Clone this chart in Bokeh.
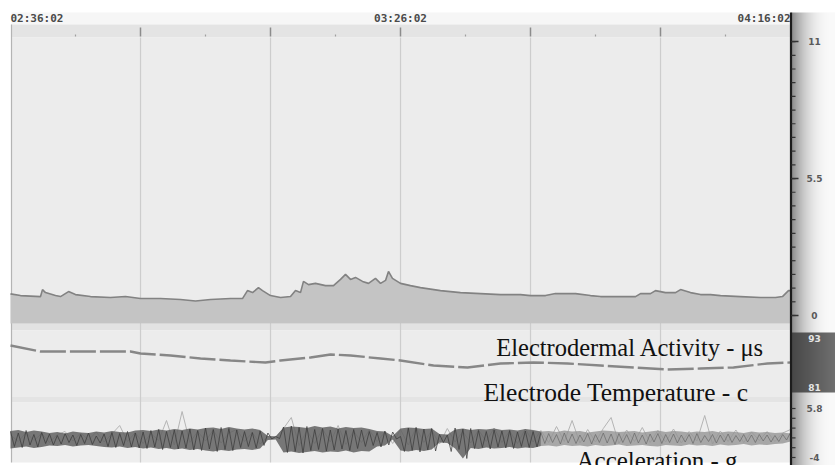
import numpy as np
from bokeh.plotting import figure
from bokeh.models import Range1d, Label
from bokeh.core.properties import value
from bokeh.embed import file_html
from bokeh.resources import INLINE

# ---------------- data (minutes after 02:36:02) ----------------
time_tick_minutes = [0, 50, 100]
time_tick_labels = ["02:36:02", "03:26:02", "04:16:02"]
time_tick_align = ["left", "center", "right"]

eda_minutes = [0.0, 1.28, 3.85, 4.10, 4.49, 5.77, 6.41, 7.44, 8.33, 10.26, 12.82, 14.74,
               16.67, 19.23, 21.79, 23.72, 25.64, 28.21, 29.74, 30.38, 31.03, 31.79, 32.31,
               33.33, 34.62, 35.90, 36.54, 37.18, 37.56, 38.21, 39.10, 40.38, 41.41, 42.31,
               42.95, 43.59, 44.23, 45.13, 45.90, 46.79, 47.44, 48.08, 48.46, 48.97, 50.0,
               51.28, 52.56, 55.13, 57.69, 60.26, 62.82, 65.38, 66.67, 68.59, 69.87, 71.15,
               72.44, 74.36, 75.64, 77.56, 80.13, 80.77, 82.05, 82.69, 83.97, 85.26, 85.90,
               87.18, 88.46, 89.74, 91.03, 93.59, 96.15, 98.08, 98.97, 99.74, 100.0]
eda_us = [0.87, 0.80, 0.76, 1.04, 0.92, 0.80, 0.76, 0.96, 0.84, 0.76, 0.72, 0.76,
          0.68, 0.68, 0.64, 0.58, 0.64, 0.68, 0.68, 1.00, 0.92, 1.12, 1.00,
          0.80, 0.72, 0.76, 1.00, 0.92, 1.37, 1.24, 1.29, 1.20, 1.20, 1.45,
          1.65, 1.45, 1.53, 1.37, 1.29, 1.49, 1.29, 1.41, 1.77, 1.49, 1.29,
          1.20, 1.12, 1.00, 0.92, 0.88, 0.84, 0.84, 0.80, 0.80, 0.88, 0.88,
          0.88, 0.80, 0.76, 0.76, 0.76, 0.88, 0.88, 1.00, 0.92, 0.92, 1.04,
          0.92, 0.84, 0.84, 0.80, 0.76, 0.72, 0.72, 0.76, 1.00, 1.00]

temp_minutes = [0.0, 3.85, 15.38, 16.67, 20.51, 24.36, 28.21, 32.69, 34.62, 38.46, 41.03,
                43.59, 47.44, 50.0, 54.23, 58.59, 62.82, 67.05, 71.41, 75.64, 79.87,
                84.23, 88.46, 92.69, 97.05, 100.0]
temp_c = [91.29, 89.82, 89.82, 89.33, 88.84, 88.10, 87.61, 87.12, 87.61, 88.35, 89.08,
          88.84, 88.10, 87.61, 86.39, 85.90, 86.88, 87.12, 86.88, 86.39, 85.90,
          85.41, 85.65, 85.90, 86.88, 87.12]

# acceleration: per-minute envelope of the dense trace (g)
acc_hi = [1.3, 1.5, 1.1, 1.4, 1.2, 0.9, 1.1, 0.8, 1.2, 1.0,
          0.9, 1.2, 1.0, 1.3, 1.1, 1.0, 1.4, 1.5, 1.3, 1.6,
          1.4, 1.7, 1.5, 1.8, 1.6, 1.9, 2.0, 1.7, 2.1, 1.8,
          1.6, 1.8, 1.5, 0.3, 0.2, 2.0, 2.2, 2.1, 1.9, 2.3,
          2.0, 2.2, 1.8, 2.1, 1.9, 2.0, 1.7, 1.3, 1.2, 0.3,
          1.8, 2.0, 1.9, 1.7, 1.8, 0.7, 0.6, 1.6, 1.8, 1.5,
          1.7, 1.6, 1.8, 1.5, 1.6, 1.4, 1.7, 1.5, 1.2, 1.3,
          1.1, 1.4, 1.2, 1.3, 1.0, 1.2, 1.4, 1.3, 1.1, 1.2,
          1.3, 1.0, 1.2, 1.4, 1.1, 1.3, 1.2, 1.0, 1.2, 1.1,
          1.3, 1.0, 1.2, 1.1, 0.9, 1.2, 1.0, 1.1, 0.9, 1.0, 0.8]
acc_lo = [-2.2, -2.0, -1.8, -2.1, -1.9, -1.6, -1.7, -1.5, -1.8, -1.6,
          -1.5, -1.7, -1.9, -2.0, -1.8, -2.1, -1.9, -2.2, -2.0, -2.3,
          -2.1, -2.4, -2.2, -2.5, -2.3, -2.6, -2.8, -2.5, -2.7, -2.4,
          -2.3, -2.5, -2.2, -0.5, -0.4, -3.0, -2.8, -3.1, -2.9, -2.7,
          -3.0, -2.8, -2.9, -2.6, -3.0, -2.7, -2.8, -1.8, -1.6, -0.4,
          -2.6, -2.8, -2.5, -2.7, -2.4, -1.0, -1.1, -2.2, -4.2, -2.1,
          -2.3, -2.0, -2.2, -2.1, -1.9, -2.2, -2.0, -2.1, -1.7, -1.6,
          -1.8, -1.5, -1.7, -1.6, -1.8, -1.5, -1.7, -1.6, -1.4, -1.7,
          -1.6, -1.5, -1.7, -1.8, -1.5, -1.6, -1.7, -1.4, -1.6, -1.5,
          -1.7, -1.4, -1.6, -1.5, -1.3, -1.6, -1.4, -1.5, -1.3, -1.2, -0.8]
acc_env_minutes = np.arange(len(acc_hi)) * 1.0

acc_dark = [1.2, -1.8, 0.9, -2.0, 1.4, -1.5, 0.6, -1.9, 1.0,
            -1.2, 0.7, -1.5, 0.4, -1.3, 0.8, -1.0, 0.5, -1.6, 0.6, -1.2, 0.9, -1.4, 0.3, -1.1, 0.7,
            -1.8, 1.0, -2.0, 0.8, -1.6, 1.2, -1.9, 0.9, -2.1, 1.1,
            -2.2, 1.4, -1.9, 1.6, -2.4, 1.2, -2.0, 1.5, -2.3, 1.3, -2.1, 1.7, -2.5, 1.4,
            -2.6, 1.9, -2.3, 1.6, -2.8, 2.0, -2.4, 1.8, -2.6, 1.5,
            -2.0, 1.2, -1.8, 1.0, -2.1, 1.3, -1.6, 0.9,
            -0.3, 0.2, -0.2,
            2.1, -3.0, 2.3, -2.8, 2.0, -3.1, 2.2,
            -2.6, 1.6, -2.4, 1.8, -2.7, 1.5, -2.5, 1.7, -2.3, 1.4, -2.6, 1.6, -2.2, 1.5,
            -1.8, 1.2, -1.6, 1.0, -1.9, 1.3, -1.5, 1.1, -0.3, 0.2,
            -2.8, 1.9, -2.6, 2.0, -2.9, 1.7, -2.5, 1.8, -2.7, 0.6, -1.0, 0.5, -2.8, 1.9, -2.4, 1.7, -4.2, 1.8,
            -2.2, 1.4, -2.0, 1.2, -2.3, 1.5, -1.9, 1.3, -2.1, 1.4, -2.2, 1.1, -1.8, 1.3, -2.0, 1.2, -1.9, 1.0,
            -1.2, 0.8, -1.0, 0.6, -1.3, 0.9, -1.1, 0.7, -1.2, 0.5, -0.9, 0.8, -1.3, 0.6, -1.0, 0.9,
            -1.1, 0.7, -1.4, 0.8, -1.0, 0.6, -1.2, 0.9, -1.1, 0.5, -1.3, 0.7, -0.9, 0.8, -1.2, 0.6,
            -1.0, 0.7, -1.1, 0.5, -0.9, 0.6, -1.2, 0.8, -1.0, 0.4, -0.8, 0.6, -1.1, 0.5, -0.9, 0.7,
            -1.0, 0.4, -0.8, 0.6, -0.9, 0.5, -1.0, 0.6, -0.7, 0.5, -0.9, 0.4, -0.8, 0.6, -0.5, 1.0]
acc_dark_minutes = np.arange(len(acc_dark)) * 0.5

acc_light = [0.5, -0.8, 1.0, -0.6, 0.8, -1.0, 0.6, 1.2, -0.7, 0.9,
             -0.5, 1.1, -0.9, 0.7, 2.4, -0.8, 1.0, -1.2, 0.8, -0.6,
             3.4, -1.5, 5.2, -1.0, 1.2, -0.7, 1.5, -1.1, 0.9, 1.6,
             -0.8, 1.0, -1.3, 0.2, 0.1, 1.8, 4.0, -1.6, 1.4, -1.2,
             1.7, -0.9, 2.4, -1.4, 1.3, -1.0, 1.5, -0.8, 1.1, -1.2,
             1.6, -1.5, 2.0, -1.0, 1.4, -1.3, 1.8, -0.9, 1.2, -1.1,
             1.5, -0.8, 1.9, -1.0, 1.3, -1.2, 1.7, -0.9, 1.4, -1.0,
             2.2, -0.8, 3.4, -1.1, 1.6, -0.9, 1.8, 4.0, -1.2, 1.5,
             -0.8, 2.0, -1.0, 1.4, -0.9, 1.7, -1.1, 1.2, -0.7, 4.4,
             -1.3, 1.3, -0.8, 1.5, -1.0, 1.1, -0.6, 1.2, -0.8, 0.9, 1.6]
acc_light_minutes = np.arange(len(acc_light)) * 1.0

eda_ticks = [0, 5.5, 11]
eda_tick_labels = ["0", "5.5", "11"]
temp_ticks = [81, 93]
temp_tick_labels = ["81", "93"]
acc_ticks = [-4, 5.8]
acc_tick_labels = ["-4", "5.8"]

# ---------------- layout ----------------
W, H = 835, 465
X0, PX_PER_MIN = 10, 7.8
SPLIT = 68  # minute after which the motion trace is drawn lighter


def value_range(v_ref, p_ref, px_per_unit):
    return Range1d(start=v_ref - (H - p_ref) / px_per_unit, end=v_ref + p_ref / px_per_unit)


def h_gradient(levels):
    img = np.empty((2, len(levels)), dtype=np.uint32)
    view = img.view(dtype=np.uint8).reshape((2, len(levels), 4))
    for c in range(3):
        view[:, :, c] = levels
    view[:, :, 3] = 255
    return img


p = figure(width=W, height=H, min_border=0, toolbar_location=None, output_backend="svg",
           x_axis_type=None, y_axis_type=None,
           x_range=Range1d(0, W), y_range=Range1d(H, 0))
p.outline_line_color = None
p.background_fill_color = "white"
p.border_fill_color = "white"
p.extra_x_ranges = {"time": Range1d(-X0 / PX_PER_MIN, (W - X0) / PX_PER_MIN)}
p.extra_y_ranges = {
    "eda": value_range(0, 315, 24.9),
    "temp": value_range(93, 338, 4.083),
    "acc": value_range(0, 437, 5.0),
}

# panel backgrounds (pixel layout)
p.quad(left=[11] * 7, right=[790] * 7,
       top=[12, 24, 37, 323, 330, 396, 402], bottom=[24, 37, 323, 330, 396, 402, 462],
       fill_color=["#f6f6f6", "#e4e4e4", "#ececec", "#e2e2e2", "#ececec", "#e4e4e4", "#eeeeee"],
       line_color=None)

# right gradient panel: dark next to the axis, light outwards
f = np.linspace(0, 1, 44)
lv = (140 + 110 * (1 - (1 - f) ** 2.5)).astype(np.uint8)
p.image_rgba(image=[h_gradient(lv)], x=791, y=12, dw=44, dh=H - 12)
lv2 = (72 + 40 * f).astype(np.uint8)
p.image_rgba(image=[h_gradient(lv2)], x=791, y=332, dw=44, dh=60)

# vertical grid and left border
grid_minutes = np.arange(1, 6) * 100 / 6
p.segment(x0=grid_minutes, x1=grid_minutes, y0=37, y1=462, x_range_name="time",
          line_color="#cdcdcd", line_width=1.2)
p.segment(x0=[11], x1=[11], y0=[24], y1=[462], line_color="#b4b4b4", line_width=1.2)
# header ticks
p.segment(x0=grid_minutes, x1=grid_minutes, y0=27, y1=36, x_range_name="time",
          line_color="#8c8c8c", line_width=1.5)
minor_minutes = np.arange(0, 6) * 100 / 6 + 100 / 12
p.segment(x0=minor_minutes, x1=minor_minutes, y0=34, y1=36, x_range_name="time",
          line_color="#a0a0a0", line_width=1.2)

# EDA
p.varea(x=eda_minutes, y1=-0.32, y2=eda_us, x_range_name="time", y_range_name="eda",
        fill_color="#c4c4c4")
p.line(eda_minutes, eda_us, x_range_name="time", y_range_name="eda",
       line_color="#828282", line_width=1.6)

# Temperature
p.line(temp_minutes, temp_c, x_range_name="time", y_range_name="temp",
       line_color="#878787", line_width=2.4, line_dash="26 4")

# Acceleration
p.line(acc_light_minutes, acc_light, x_range_name="time", y_range_name="acc",
       line_color="#b4b4b4", line_width=1.0)
n_env = SPLIT + 1
p.varea(x=acc_env_minutes[:n_env], y1=acc_lo[:n_env], y2=acc_hi[:n_env],
        x_range_name="time", y_range_name="acc", fill_color="#626262", fill_alpha=0.85)
p.varea(x=acc_env_minutes[SPLIT:], y1=acc_lo[SPLIT:], y2=acc_hi[SPLIT:],
        x_range_name="time", y_range_name="acc", fill_color="#959595", fill_alpha=0.8)
n_dark = 2 * SPLIT + 1
p.line(acc_dark_minutes[:n_dark], acc_dark[:n_dark], x_range_name="time", y_range_name="acc",
       line_color="#3c3c3c", line_width=0.9, line_alpha=0.85)
p.line(acc_dark_minutes[n_dark - 1:], acc_dark[n_dark - 1:], x_range_name="time",
       y_range_name="acc", line_color="#6a6a6a", line_width=0.9, line_alpha=0.8)

# right axis line + ticks
p.segment(x0=[790.5], x1=[790.5], y0=[12], y1=[H], line_color="#1c1c1c", line_width=2.2)
minor_eda = np.arange(0, 21) * 0.55
p.segment(x0=791, x1=795, y0=minor_eda, y1=minor_eda, y_range_name="eda",
          line_color="#333333", line_width=1.2)
p.segment(x0=791, x1=798, y0=eda_ticks, y1=eda_ticks, y_range_name="eda",
          line_color="#333333", line_width=1.5)
minor_acc = np.arange(-1, 6) * 1.96 - 4
p.segment(x0=791, x1=795, y0=minor_acc, y1=minor_acc, y_range_name="acc",
          line_color="#333333", line_width=1.2)

# right tick labels
lab_kw = dict(text_align="center", text_baseline="middle", text_font_size="9px",
              text_font=value("DejaVu Sans"), text_font_style="bold")
p.text(x=[814] * 3, y=eda_ticks, text=eda_tick_labels, y_range_name="eda",
       text_color="#5a5a5a", **lab_kw)
p.text(x=[814] * 2, y=temp_ticks, text=temp_tick_labels, y_range_name="temp",
       text_color="#e6e6e6", **lab_kw)
p.text(x=[814] * 2, y=acc_ticks, text=acc_tick_labels, y_range_name="acc",
       text_color="#5a5a5a", **lab_kw)

# time labels on top
p.text(x=time_tick_minutes, y=[18] * 3, text=time_tick_labels, text_align=time_tick_align,
       x_range_name="time", text_baseline="middle", text_font_size="11px",
       text_font=value("DejaVu Sans Mono"), text_font_style="bold", text_color="#4a4a4a")

# channel labels
for txt, x, y, size in [("Electrodermal Activity - \u03bcs", 764, 347, "24.5px"),
                        ("Electrode Temperature - c", 748, 392, "25.5px"),
                        ("Acceleration - g", 737, 460, "25px")]:
    p.add_layout(Label(x=x, y=y, text=txt, text_align="right", text_baseline="alphabetic",
                       text_font="Liberation Serif", text_font_size=size, text_color="#111111"))

open("out.html", "w").write(file_html(p, INLINE))
